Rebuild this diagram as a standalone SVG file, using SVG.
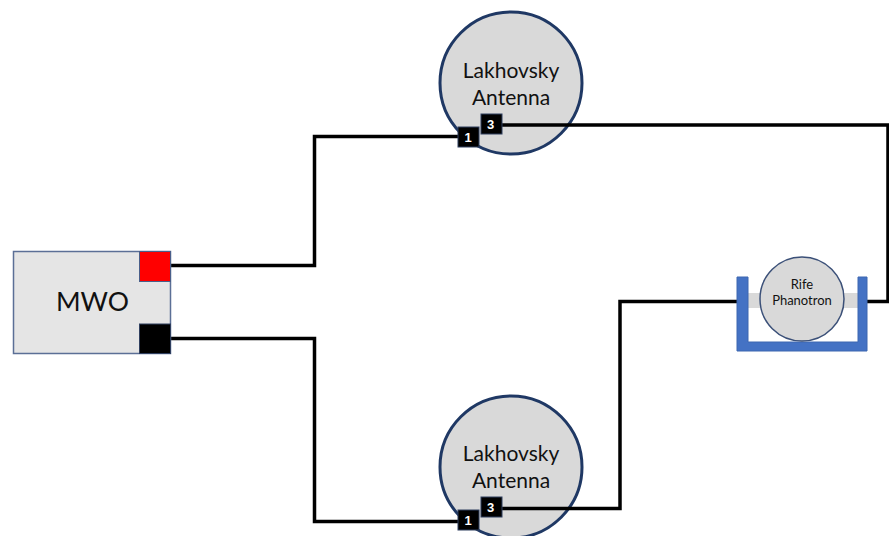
<svg xmlns="http://www.w3.org/2000/svg" width="889" height="536" viewBox="0 0 889 536">
<style>
text{font-family:"Lato","Liberation Sans",sans-serif;fill:#111;text-anchor:middle}
.ant{fill:#d9d9d9;stroke:#1f3864;stroke-width:3}
.wire{fill:none;stroke:#000;stroke-width:3.500}
.pin{fill:#000;stroke:#2f3f5f;stroke-width:1}
.pt{fill:#fff;font-size:13px;font-weight:700;font-family:"Liberation Sans",sans-serif}
.lab{font-size:21px}
</style>
<rect width="889" height="536" fill="#fff"/>
<g id="antenna-top-body"><circle class="ant" cx="511" cy="83" r="71"/><text class="lab" x="511" y="77.500">Lakhovsky</text><text class="lab" x="511" y="104.500">Antenna</text></g>
<g id="antenna-bottom-body"><circle class="ant" cx="511" cy="467" r="71"/><text class="lab" x="511" y="461">Lakhovsky</text><text class="lab" x="511" y="488">Antenna</text></g>
<g id="connectors">
<path class="wire" d="M171 265.500H314.500V136.500H458"/>
<path class="wire" d="M502 125H888V301.500H867"/>
<path class="wire" d="M171 338.500H314.500V521.500H458"/>
<path class="wire" d="M502 508.500H620V301.500H737"/>
</g>
<g id="mwo">
<rect x="13.500" y="251.500" width="157" height="102" fill="#e5e5e5" stroke="#5b6f96" stroke-width="1.500"/>
<rect x="139.500" y="251.500" width="31" height="30" fill="#ff0000" stroke="#4a5f8a"/>
<rect x="139.500" y="324" width="31" height="29.500" fill="#000" stroke="#2f3f5f"/>
<text x="92.500" y="311" font-size="26.500">MWO</text>
</g>
<g id="antenna-top-pins">
<rect class="pin" x="458" y="127" width="21" height="20"/><text class="pt" x="468" y="142">1</text>
<rect class="pin" x="481" y="114" width="21" height="20"/><text class="pt" x="490.500" y="129">3</text>
</g>
<g id="antenna-bottom-pins">
<rect class="pin" x="458" y="510" width="21" height="20"/><text class="pt" x="468" y="525">1</text>
<rect class="pin" x="481" y="497" width="21" height="20"/><text class="pt" x="490.500" y="512">3</text>
</g>
<g id="rife-phanotron">
<rect x="748" y="293" width="110" height="15" fill="#d9d9d9"/>
<path d="M737 277H748V342H858V277H867V351H737Z" fill="#4472c4" stroke="#3d66b0" stroke-width="1"/>
<circle cx="802" cy="299" r="42" fill="#d9d9d9" stroke="#3b5078" stroke-width="1.500"/>
<text x="802" y="288.500" font-size="13">Rife</text>
<text x="802" y="305" font-size="13">Phanotron</text>
</g>
</svg>
